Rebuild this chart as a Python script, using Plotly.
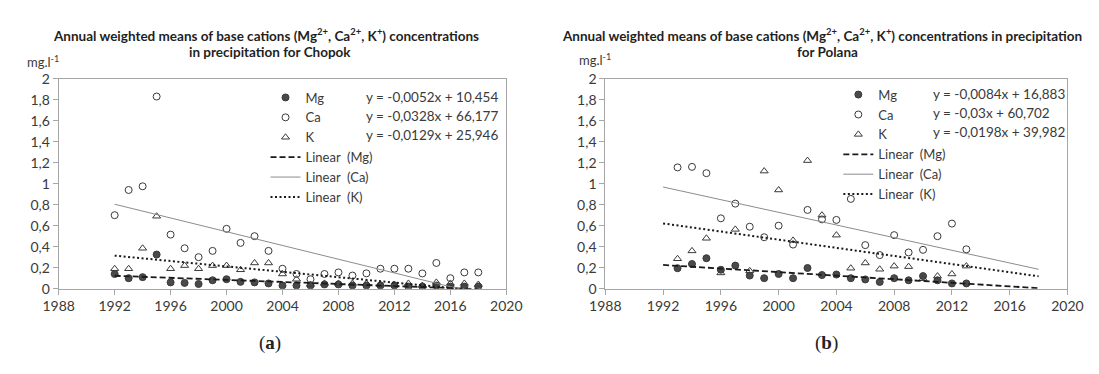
import numpy as np
import plotly.graph_objects as go

# ---------------- data ----------------
years_chopok = list(range(1992, 2019))
mg_chopok = [0.14, 0.10, 0.11, 0.325, 0.06, 0.055, 0.045, 0.08, 0.09, 0.065, 0.06, 0.05, 0.03,
             0.03, 0.03, 0.04, 0.04, 0.03, 0.03, 0.03, 0.03, 0.02, 0.02, 0.03, 0.02, 0.02, 0.02]
ca_chopok = [0.70, 0.94, 0.975, 1.83, 0.515, 0.385, 0.30, 0.36, 0.57, 0.436, 0.50, 0.36, 0.19,
             0.14, 0.09, 0.14, 0.155, 0.125, 0.146, 0.19, 0.19, 0.19, 0.145, 0.245, 0.10, 0.155, 0.155]
k_chopok = [0.19, 0.19, 0.385, 0.69, 0.19, 0.22, 0.19, 0.22, 0.22, 0.18, 0.245, 0.245, 0.14,
            0.09, 0.04, 0.05, 0.05, 0.05, 0.05, 0.04, 0.04, 0.05, 0.03, 0.06, 0.05, 0.05, 0.04]

years_polana = list(range(1993, 2014))
mg_polana = [0.195, 0.235, 0.29, 0.18, 0.22, 0.125, 0.10, 0.14, 0.10, 0.197, 0.13, 0.135, 0.10,
             0.088, 0.064, 0.10, 0.08, 0.12, 0.08, 0.05, 0.05]
ca_polana = [1.155, 1.16, 1.10, 0.67, 0.81, 0.59, 0.49, 0.60, 0.42, 0.75, 0.66, 0.655, 0.855,
             0.415, 0.32, 0.51, 0.345, 0.37, 0.50, 0.62, 0.375]
k_polana = [0.285, 0.36, 0.48, 0.15, 0.565, 0.17, 1.12, 0.94, 0.46, 1.22, 0.70, 0.51, 0.195,
            0.245, 0.185, 0.215, 0.21, 0.095, 0.12, 0.14, 0.215]

eq_chopok = ["y = -0,0052x + 10,454", "y = -0,0328x + 66,177", "y = -0,0129x + 25,946"]
eq_polana = ["y = -0,0084x + 16,883", "y = -0,03x + 60,702", "y = -0,0198x + 39,982"]
trend_years = [1992, 2018]

x_ticks = list(range(1988, 2021, 4))
y_ticks = [0, 0.2, 0.4, 0.6, 0.8, 1, 1.2, 1.4, 1.6, 1.8, 2]
y_ticktext = ["0", "0,2", "0,4", "0,6", "0,8", "1", "1,2", "1,4", "1,6", "1,8", "2"]

# ---------------- style ----------------
FONT = "Lato"
TXT = "#3a3a3a"
AX = "#a6a6a6"
MK = "#3a3a3a"

fig = go.Figure()


def add_panel(years, mg, ca, k, xa, ya, leg):
    mk = dict(size=7, line=dict(color=MK, width=1))
    fig.add_trace(go.Scatter(x=years, y=mg, mode="markers", name="Mg", xaxis=xa, yaxis=ya, legend=leg,
                             marker=dict(symbol="circle", color="#4a4a4a", **mk)))
    fig.add_trace(go.Scatter(x=years, y=ca, mode="markers", name="Ca", xaxis=xa, yaxis=ya, legend=leg,
                             marker=dict(symbol="circle-open", color=MK, **mk)))
    fig.add_trace(go.Scatter(x=years, y=k, mode="markers", name="K", xaxis=xa, yaxis=ya, legend=leg,
                             marker=dict(symbol="triangle-up-open", color=MK, **mk)))
    styles = [("Mg", mg, dict(color="#1a1a1a", width=1.8, dash="6px,3px")),
              ("Ca", ca, dict(color="#8c8c8c", width=1)),
              ("K", k, dict(color="#1a1a1a", width=2, dash="2px,2.5px"))]
    for nm, vals, ln in styles:
        a, b = np.polyfit(years, vals, 1)
        ty = [a * t + b for t in trend_years]
        fig.add_trace(go.Scatter(x=trend_years, y=ty, mode="lines", name="Linear\u00a0\u00a0(" + nm + ")",
                                 xaxis=xa, yaxis=ya, legend=leg, line=ln))


add_panel(years_chopok, mg_chopok, ca_chopok, k_chopok, "x", "y", "legend")
add_panel(years_polana, mg_polana, ca_polana, k_polana, "x2", "y2", "legend2")

W, H = 1099, 374
ybot, ytop = 1 - 293 / H, 1 - 73 / H

axis_common = dict(showline=True, linecolor=AX, linewidth=1, mirror=True, showgrid=False, zeroline=False,
                   ticks="outside", ticklen=5, tickcolor=AX,
                   tickfont=dict(family=FONT, size=14, color=TXT))
xcommon = dict(axis_common, range=[1988, 2020], tickvals=x_ticks)
ycommon = dict(axis_common, range=[0, 2], tickvals=y_ticks, ticktext=y_ticktext)

leg_common = dict(font=dict(family=FONT, size=13, color=TXT), bgcolor="rgba(0,0,0,0)",
                  xanchor="left", yanchor="top", tracegroupgap=0, itemwidth=30)

fig.update_layout(
    width=W, height=H, autosize=False,
    margin=dict(l=0, r=0, t=0, b=0),
    paper_bgcolor="white", plot_bgcolor="white",
    xaxis=dict(xcommon, domain=[44 / W, 505 / W], anchor="y"),
    yaxis=dict(ycommon, domain=[ybot, ytop], anchor="x"),
    xaxis2=dict(xcommon, domain=[607 / W, 1083 / W], anchor="y2"),
    yaxis2=dict(ycommon, domain=[ybot, ytop], anchor="x2"),
    legend=dict(leg_common, x=257 / W, y=1 - 77 / H),
    legend2=dict(leg_common, x=847 / W, y=1 - 74 / H),
    showlegend=True,
)

ann = []
title_font = dict(family=FONT, size=13.5, color="#1f1f1f")
ann.append(dict(text="<b>Annual weighted means of base cations (Mg<sup>2+</sup>, Ca<sup>2+</sup>, K<sup>+</sup>) concentrations</b>",
                x=258 / W, y=1 - 27 / H))
ann.append(dict(text="<b>in precipitation for Chopok</b>", x=262 / W, y=1 - 45 / H))
ann.append(dict(text="<b>Annual weighted means of base cations (Mg<sup>2+</sup>, Ca<sup>2+</sup>, K<sup>+</sup>) concentrations in precipitation</b>",
                x=830 / W, y=1 - 27 / H))
ann.append(dict(text="<b>for Polana</b>", x=836 / W, y=1 - 45 / H))
for a in ann:
    a.update(xref="paper", yref="paper", showarrow=False, font=title_font, xanchor="center", yanchor="middle")

units = [dict(text="mg.l<sup>-1</sup>", x=28 / W, y=1 - 55 / H), dict(text="mg.l<sup>-1</sup>", x=596 / W, y=1 - 53 / H)]
for u in units:
    u.update(xref="paper", yref="paper", showarrow=False, xanchor="center", yanchor="middle",
             font=dict(family=FONT, size=13, color=TXT))
ann += units

rows_left = [92, 112, 132]
rows_right = [89, 109, 129]
for i in range(3):
    ann.append(dict(text=eq_chopok[i], x=358 / W, y=1 - rows_left[i] / H, xref="paper", yref="paper",
                    showarrow=False, xanchor="left", yanchor="middle", font=dict(family=FONT, size=13.5, color=TXT)))
    ann.append(dict(text=eq_polana[i], x=942 / W, y=1 - rows_right[i] / H, xref="paper", yref="paper",
                    showarrow=False, xanchor="left", yanchor="middle", font=dict(family=FONT, size=13.5, color=TXT)))

ann.append(dict(text="(<b>a</b>)", x=262 / W, y=1 - 350 / H, xref="paper", yref="paper", showarrow=False,
                xanchor="center", yanchor="middle",
                font=dict(family="Liberation Serif", size=19, color="#222222")))
ann.append(dict(text="(<b>b</b>)", x=835 / W, y=1 - 350 / H, xref="paper", yref="paper", showarrow=False,
                xanchor="center", yanchor="middle",
                font=dict(family="Liberation Serif", size=19, color="#222222")))

fig.update_layout(annotations=ann)
fig.write_html("out.html", config={"displayModeBar": False},
               post_script="document.body.style.margin='0';document.body.style.overflow='hidden';")
